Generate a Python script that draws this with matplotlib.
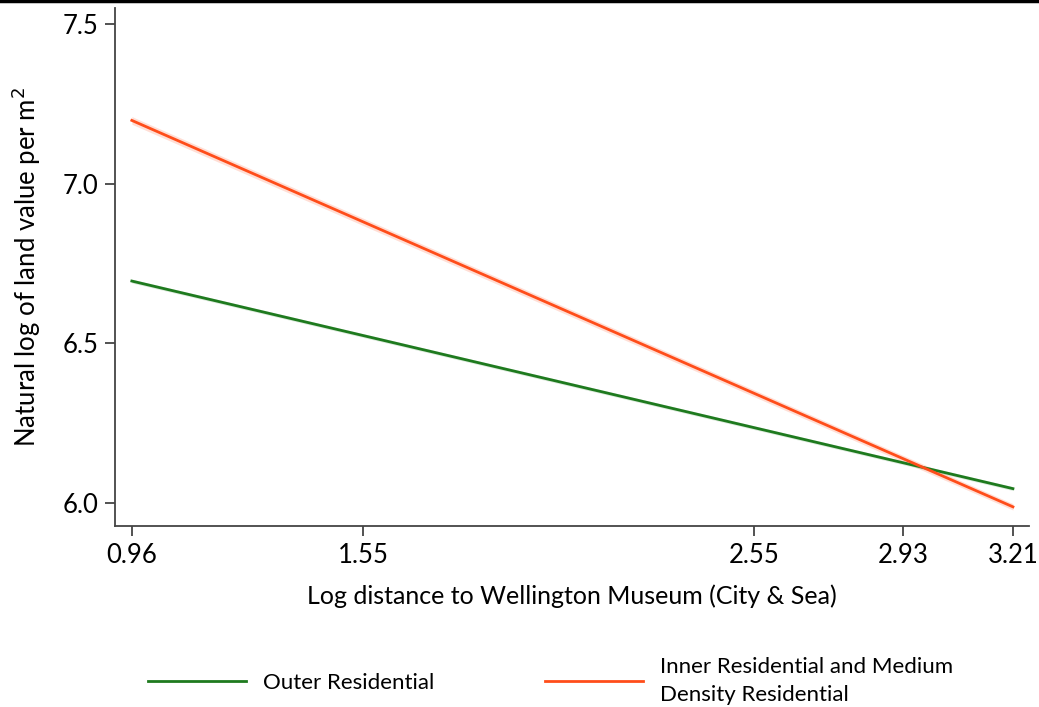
import matplotlib
matplotlib.use('Agg')
import matplotlib.pyplot as plt
from matplotlib.lines import Line2D
import numpy as np

plt.rcParams['font.family'] = ['Lato', 'DejaVu Sans']

# fitted lines (linear fit, end points) and CI half widths
log_dist = [0.96, 3.21]
outer_fit = [6.695, 6.045]
outer_ci = [0.006, 0.006]
inner_fit = [7.198, 5.988]
inner_ci = [0.012, 0.010]

xticks = [0.96, 1.55, 2.55, 2.93, 3.21]
yticks = [6.0, 6.5, 7.0, 7.5]

green = '#1e7a1e'
orange = '#ff4d1a'

fig = plt.figure(figsize=(10.39, 7.07), dpi=100)
ax = fig.add_axes([115/1039, 1-526/707, (1029-115)/1039, (526-8)/707])

x = np.array(log_dist)
lo = np.array(outer_fit)
hi = np.array(inner_fit)
ax.fill_between(x, lo - outer_ci, lo + outer_ci, color=green, alpha=0.15, lw=0)
ax.fill_between(x, hi - inner_ci, hi + inner_ci, color=orange, alpha=0.18, lw=0)
ax.plot(x, lo, color=green, lw=2, label='Outer Residential')
ax.plot(x, hi, color=orange, lw=2, label='Inner Residential and Medium\nDensity Residential')

ax.set_xlim(0.917, 3.251)
ax.set_ylim(5.928, 7.55)
ax.set_xticks(xticks)
ax.set_xticklabels(['%.2f' % v for v in xticks])
ax.set_yticks(yticks)
ax.set_yticklabels(['%.1f' % v for v in yticks])

for s in ['top', 'right']:
    ax.spines[s].set_visible(False)
for s in ['left', 'bottom']:
    ax.spines[s].set_color('#444444')
    ax.spines[s].set_linewidth(1.3)
ax.tick_params(axis='both', length=7, width=1.3, color='#444444', labelsize=18.5, pad=5)

ax.set_xlabel('Log distance to Wellington Museum (City & Sea)', fontsize=18, labelpad=12)
ax.set_ylabel('Natural log of land value per m$^2$', fontsize=18.5, labelpad=14)

leg = fig.legend(loc='center', bbox_to_anchor=(0.53, 1-681/707), ncol=2, frameon=False,
                 fontsize=16, handlelength=4.4, handletextpad=0.75, columnspacing=5.0)
for t in leg.get_texts():
    t.set_linespacing(1.45)

fig.add_artist(Line2D([0, 1], [1-1/707, 1-1/707], color='black', lw=2.5, transform=fig.transFigure))

plt.savefig('out.png', dpi=100)
